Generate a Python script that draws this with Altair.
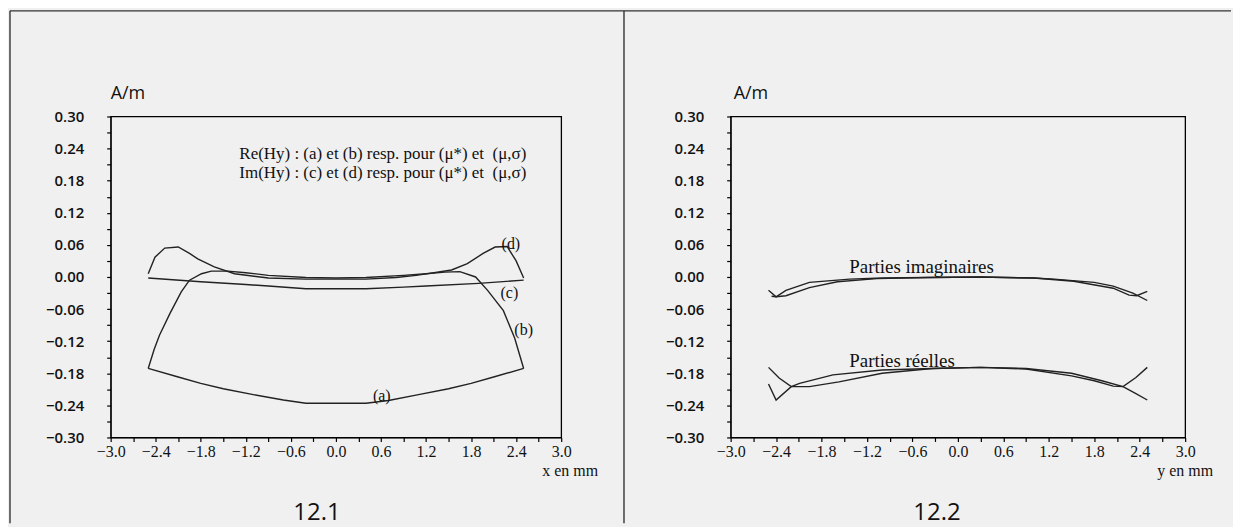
import altair as alt
import pandas as pd

# ---------------- data ----------------
X_TICKS = [-3.0, -2.7, -2.4, -2.1, -1.8, -1.5, -1.2, -0.9, -0.6, -0.3, 0.0,
           0.3, 0.6, 0.9, 1.2, 1.5, 1.8, 2.1, 2.4, 2.7, 3.0]
Y_TICKS = [-0.30, -0.27, -0.24, -0.21, -0.18, -0.15, -0.12, -0.09, -0.06, -0.03, 0.00,
           0.03, 0.06, 0.09, 0.12, 0.15, 0.18, 0.21, 0.24, 0.27, 0.30]

# Panel 12.1
A_X = [-2.50, -2.10, -1.80, -1.50, -1.10, -0.70, -0.40, 0.40, 0.70, 1.10, 1.50, 1.80, 2.10, 2.50]
A_Y = [-0.171, -0.187, -0.199, -0.209, -0.220, -0.230, -0.236, -0.236, -0.231, -0.220, -0.209, -0.199, -0.187, -0.171]

B_X = [-2.50, -2.42, -2.35, -2.21, -2.06, -1.95, -1.79, -1.66, -1.44, -1.20, -0.90, -0.40, 0.00,
       0.40, 0.90, 1.20, 1.45, 1.65, 1.86, 2.02, 2.23, 2.38, 2.50]
B_Y = [-0.171, -0.135, -0.109, -0.068, -0.028, -0.006, 0.006, 0.011, 0.011, 0.008, 0.003, -0.001, -0.002,
       -0.001, 0.003, 0.006, 0.009, 0.010, 0.000, -0.025, -0.063, -0.114, -0.171]

C_X = [-2.50, -1.80, -1.20, -0.90, -0.40, 0.40, 0.90, 1.20, 1.90, 2.50]
C_Y = [-0.002, -0.009, -0.014, -0.017, -0.022, -0.022, -0.019, -0.017, -0.012, -0.006]

D_X = [-2.50, -2.41, -2.28, -2.10, -1.95, -1.84, -1.62, -1.35, -0.90, -0.40, 0.40, 0.80,
       1.07, 1.54, 1.75, 1.96, 2.12, 2.28, 2.40, 2.50]
D_Y = [0.006, 0.037, 0.054, 0.056, 0.044, 0.034, 0.019, 0.006, -0.002, -0.004, -0.004, -0.001,
       0.003, 0.013, 0.025, 0.044, 0.056, 0.057, 0.030, -0.002]

# Panel 12.2
I1_X = [-2.50, -2.40, -2.27, -1.96, -1.43, -1.00, -0.40, 0.30, 1.00, 1.53, 2.05, 2.26, 2.36, 2.50]
I1_Y = [-0.025, -0.037, -0.025, -0.010, -0.004, -0.002, -0.001, 0.000, -0.002, -0.008, -0.021, -0.034, -0.035, -0.027]
I2_X = [-2.46, -2.40, -2.27, -1.96, -1.59, -1.07, -0.40, 0.30, 1.00, 1.27, 1.80, 2.05, 2.31, 2.50]
I2_Y = [-0.036, -0.037, -0.035, -0.020, -0.009, -0.003, -0.001, 0.000, -0.002, -0.004, -0.010, -0.017, -0.030, -0.044]

R1_X = [-2.50, -2.36, -2.20, -1.96, -1.57, -1.00, -0.34, 0.30, 0.90, 1.50, 1.80, 2.05, 2.18, 2.35, 2.50]
R1_Y = [-0.169, -0.189, -0.205, -0.205, -0.196, -0.180, -0.171, -0.169, -0.172, -0.185, -0.194, -0.204, -0.205, -0.188, -0.169]
R2_X = [-2.50, -2.40, -2.20, -2.09, -1.65, -1.00, -0.34, 0.30, 0.90, 1.50, 1.90, 2.18, 2.35, 2.50]
R2_Y = [-0.200, -0.230, -0.205, -0.199, -0.183, -0.174, -0.171, -0.169, -0.171, -0.180, -0.194, -0.205, -0.218, -0.230]

LEGEND_TEXT = ["Re(Hy) : (a) et (b) resp. pour (\u03bc*) et\u00a0 (\u03bc,\u03c3)",
               "Im(Hy) : (c) et (d) resp. pour (\u03bc*) et\u00a0 (\u03bc,\u03c3)"]
LEGEND_X = [2.535, 2.535]
LEGEND_Y = [0.229, 0.194]

CURVE_LABELS = ["(a)", "(b)", "(c)", "(d)"]
CURVE_LABEL_X = [0.61, 2.50, 2.31, 2.33]
CURVE_LABEL_Y = [-0.222, -0.099, -0.030, 0.061]

P2_LABELS = ["Parties imaginaires", "Parties r\u00e9elles"]
P2_LABEL_X = [-1.434, -1.434]
P2_LABEL_Y = [0.019, -0.157]

UNIT = "A/m"
X_TITLES = ["x en mm", "y en mm"]
CAPTIONS = ["12.1", "12.2"]

# ---------------- styling ----------------
SANS = "Open Sans"
SERIF = "Liberation Serif"
LINE = "#222222"
TEXT = "#111111"
BG = "#f0f0f0"
W1, W2, H = 452, 456, 322

XS = alt.Scale(domain=[-3.0, 3.0], nice=False, zero=False)
YS = alt.Scale(domain=[-0.30, 0.30], nice=False, zero=False)

X_AXIS = alt.Axis(values=X_TICKS, title=None, grid=False, tickSize=4, labelPadding=2,
                  labelFlush=False, labelOverlap=False, labelFont=SERIF, labelFontSize=16,
                  labelColor=TEXT, domainColor="black", tickColor="black", tickWidth=1.2,
                  labelExpr="round(datum.value*10) % 6 == 0 ? format(datum.value, '.1f') : ''")
Y_AXIS = alt.Axis(values=Y_TICKS, title=None, grid=False, tickSize=4, labelPadding=23,
                  labelFlush=False, labelOverlap=False, labelFont=SANS, labelFontSize=15,
                  labelFontWeight=600,
                  labelColor=TEXT, domainColor="black", tickColor="black", tickWidth=1.2,
                  labelExpr="round(datum.value*100) % 6 == 0 ? format(datum.value, '.2f') : ''")


def xy():
    return dict(x=alt.X("x:Q", scale=XS, axis=X_AXIS), y=alt.Y("y:Q", scale=YS, axis=Y_AXIS))


def curves_layer(curves):
    rows = []
    for name, xs, ys in curves:
        for i, (xv, yv) in enumerate(zip(xs, ys)):
            rows.append({"curve": name, "x": xv, "y": yv, "i": i})
    return alt.Chart(pd.DataFrame(rows)).mark_line(color=LINE, strokeWidth=1.4).encode(
        detail="curve:N", order="i:Q", **xy())


def text_layer(texts, xs, ys, align, size):
    df = pd.DataFrame({"t": texts, "x": xs, "y": ys})
    return alt.Chart(df).mark_text(align=align, baseline="middle", font=SERIF,
                                   fontSize=size, color=TEXT).encode(text="t:N", **xy())


def pixel_text(label, px, py, align, font, size):
    return alt.Chart(pd.DataFrame({"t": [label]})).mark_text(
        align=align, baseline="middle", font=font, fontSize=size, color=TEXT
    ).encode(text="t:N", x=alt.value(px), y=alt.value(py))


def rule(x1, x2, y1, y2):
    return alt.Chart(pd.DataFrame({"k": [0]})).mark_rule(color="#333333", strokeWidth=1.4).encode(
        x=alt.value(x1), x2=alt.value(x2), y=alt.value(y1), y2=alt.value(y2))


panel1 = alt.layer(
    rule(-101, 1124, -106, -106),      # top frame line of the page
    rule(-101, -101, -106, 408),       # left frame line
    rule(515, 515, -106, 408),         # divider between the two figures
    curves_layer([("a", A_X, A_Y), ("b", B_X, B_Y), ("c", C_X, C_Y), ("d", D_X, D_Y)]),
    text_layer(LEGEND_TEXT, LEGEND_X, LEGEND_Y, "right", 17),
    text_layer(CURVE_LABELS, CURVE_LABEL_X, CURVE_LABEL_Y, "center", 16),
    pixel_text(UNIT, 0, -23, "left", SANS, 18),
    pixel_text(X_TITLES[0], 461, 356, "center", SERIF, 16),
    pixel_text(CAPTIONS[0], 207, 398, "center", SANS, 24),
).properties(width=W1, height=H)

panel2 = alt.layer(
    curves_layer([("i1", I1_X, I1_Y), ("i2", I2_X, I2_Y), ("r1", R1_X, R1_Y), ("r2", R2_X, R2_Y)]),
    text_layer(P2_LABELS, P2_LABEL_X, P2_LABEL_Y, "left", 19),
    pixel_text(UNIT, 3, -23, "left", SANS, 18),
    pixel_text(X_TITLES[1], 456, 356, "center", SERIF, 16),
    pixel_text(CAPTIONS[1], 207, 398, "center", SANS, 24),
).properties(width=W2, height=H)

chart = alt.hconcat(panel1, panel2, spacing=170, bounds="flush").properties(
    padding={"left": 0, "top": 0, "right": 0, "bottom": 0}
).configure(background=BG).configure_view(stroke="black", strokeWidth=1.3)

chart.save("out.html", embed_options={"renderer": "svg", "actions": False})
